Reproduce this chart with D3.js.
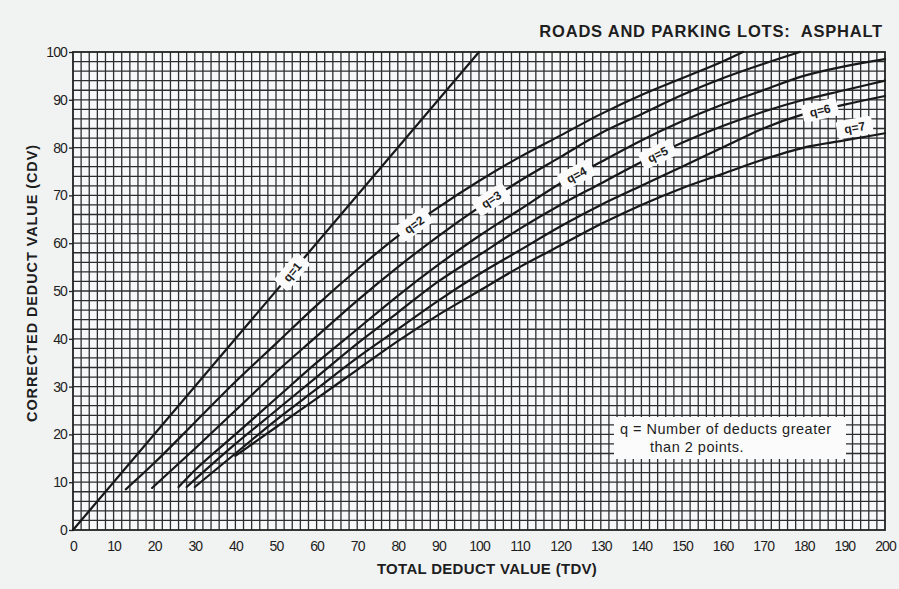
<!DOCTYPE html>
<html>
<head>
<meta charset="utf-8">
<script src="https://cdn.jsdelivr.net/npm/d3@7"></script>
<style>
  html, body { margin: 0; padding: 0; background: #f1f2f2; }
  svg { display: block; }
  text { font-family: "Liberation Sans", Arial, Helvetica, sans-serif; fill: #1e1e1e; }
</style>
</head>
<body>
<svg id="chart" width="899" height="589"></svg>
<script>
// Corrected deduct value curves, one pair of arrays per q
const tdvQ1 = [0, 100];
const cdvQ1 = [0, 100];
const tdvQ2 = [13, 20, 30, 40, 50, 60, 70, 80, 90, 100, 110, 120, 130, 140, 150, 160, 165];
const cdvQ2 = [8.5, 14, 22.5, 31, 39, 47, 54.5, 61.5, 67.5, 73, 78, 82.5, 87, 91, 94.5, 98, 100];
const tdvQ3 = [19.5, 30, 40, 50, 60, 70, 80, 90, 100, 110, 120, 130, 140, 150, 160, 170, 179];
const cdvQ3 = [8.8, 17, 25, 33, 40.5, 48, 55, 61.5, 67.5, 73, 78, 83, 87, 91, 94.5, 97.5, 100];
const tdvQ4 = [26, 30, 40, 50, 60, 70, 80, 90, 100, 110, 120, 130, 140, 150, 160, 170, 180, 190, 200];
const cdvQ4 = [9, 12.5, 20, 27.5, 35, 42, 49, 55.5, 61.5, 67, 72.5, 77, 81.5, 85.5, 89, 92, 95, 97, 98.5];
const tdvQ5 = [28, 40, 50, 60, 70, 80, 90, 100, 110, 120, 130, 140, 150, 160, 170, 180, 190, 200];
const cdvQ5 = [9, 18, 25, 32, 39, 45.5, 52, 57.5, 63, 68, 72.5, 77, 81, 84.5, 87.5, 90, 92, 94];
const tdvQ6 = [30, 40, 50, 60, 70, 80, 90, 100, 110, 120, 130, 140, 150, 160, 170, 180, 190, 200];
const cdvQ6 = [9, 16, 23, 29.5, 36, 42, 48, 53.5, 58.5, 63.5, 68, 72, 76, 80, 84, 87, 89, 90.8];
const tdvQ7 = [40, 50, 60, 70, 80, 90, 100, 110, 120, 130, 140, 150, 160, 170, 180, 190, 200];
const cdvQ7 = [15.5, 21.5, 27.5, 33.5, 39.5, 45, 50, 55, 59.5, 64, 68, 71.5, 74.5, 77.5, 80, 81.5, 83];

const curveNames = ["q=1", "q=2", "q=3", "q=4", "q=5", "q=6", "q=7"];
const tdvSeries = [tdvQ1, tdvQ2, tdvQ3, tdvQ4, tdvQ5, tdvQ6, tdvQ7];
const cdvSeries = [cdvQ1, cdvQ2, cdvQ3, cdvQ4, cdvQ5, cdvQ6, cdvQ7];
// TDV at which each curve carries its name, and how far the tag sits off the line
const nameAtTdv = [54, 84, 103, 124, 144, 184, 193];
const nameLift = [0, 0, 0, 0, 0, 0, 11];

const xTicks = d3.range(0, 201, 10);
const yTicks = d3.range(0, 101, 10);

const titleText = "ROADS AND PARKING LOTS:  ASPHALT";
const xTitle = "TOTAL DEDUCT VALUE (TDV)";
const yTitle = "CORRECTED DEDUCT VALUE (CDV)";
const noteLines = ["q = Number of deducts greater", "than 2 points."];

const svg = d3.select("#chart");
const x = d3.scaleLinear().domain([0, 200]).range([73, 885]);
const y = d3.scaleLinear().domain([0, 100]).range([530, 52]);

// plot paper
svg.append("rect")
  .attr("x", x(0)).attr("y", y(100))
  .attr("width", x(200) - x(0)).attr("height", y(0) - y(100))
  .attr("fill", "#f7f8fa");

// fine grid, every 2 units
const grid = svg.append("g").attr("stroke", "#2e2e2e").attr("stroke-width", 1.3);
d3.range(2, 200, 2).forEach(v => {
  grid.append("line")
    .attr("x1", x(v)).attr("x2", x(v)).attr("y1", y(0)).attr("y2", y(100));
});
d3.range(2, 100, 2).forEach(v => {
  grid.append("line")
    .attr("x1", x(0)).attr("x2", x(200)).attr("y1", y(v)).attr("y2", y(v));
});

// frame
svg.append("rect")
  .attr("x", x(0)).attr("y", y(100))
  .attr("width", x(200) - x(0)).attr("height", y(0) - y(100))
  .attr("fill", "none").attr("stroke", "#222").attr("stroke-width", 1.8);

// axes
const xAxis = d3.axisBottom(x).tickValues(xTicks).tickSize(0).tickPadding(11);
const gx = svg.append("g").attr("transform", `translate(0,${y(0)})`).call(xAxis);
gx.select(".domain").remove();
gx.selectAll("text").attr("font-size", 14).attr("letter-spacing", -0.9).attr("fill", "#1e1e1e")
  .style("font-family", "'Liberation Sans', Arial, sans-serif");

const yAxis = d3.axisLeft(y).tickValues(yTicks).tickSize(4).tickPadding(2);
const gy = svg.append("g").attr("transform", `translate(${x(0)},0)`).call(yAxis);
gy.select(".domain").remove();
gy.selectAll("line").attr("stroke", "#222").attr("stroke-width", 1.3);
gy.selectAll("text").attr("font-size", 14).attr("letter-spacing", -0.9).attr("fill", "#1e1e1e")
  .style("font-family", "'Liberation Sans', Arial, sans-serif");

// curves
const line = d3.line()
  .x(d => x(d[0])).y(d => y(d[1]))
  .curve(d3.curveMonotoneX);

const curveData = tdvSeries.map((t, i) => t.map((v, j) => [v, cdvSeries[i][j]]));

svg.append("g").selectAll("path")
  .data(curveData)
  .join("path")
  .attr("d", line)
  .attr("fill", "none")
  .attr("stroke", "#191919")
  .attr("stroke-width", 2.2)
  .attr("stroke-linecap", "round");

// curve names sitting on the lines
function cdvAt(i, t) {
  const ts = tdvSeries[i], cs = cdvSeries[i];
  for (let k = 0; k < ts.length - 1; k++) {
    if (t >= ts[k] && t <= ts[k + 1]) {
      const f = (t - ts[k]) / (ts[k + 1] - ts[k]);
      return cs[k] + f * (cs[k + 1] - cs[k]);
    }
  }
  return cs[cs.length - 1];
}
const names = svg.append("g");
curveNames.forEach((nm, i) => {
  const t = nameAtTdv[i];
  const c = cdvAt(i, t);
  const px = x(t), py = y(c);
  const ang = Math.atan2(y(cdvAt(i, Math.min(t + 3, 200))) - y(cdvAt(i, t - 3)),
                         x(Math.min(t + 3, 200)) - x(t - 3)) * 180 / Math.PI;
  const g = names.append("g")
    .attr("transform", `translate(${px},${py}) rotate(${ang}) translate(0,${-nameLift[i]})`);
  g.append("rect").attr("x", -18).attr("y", -9).attr("width", 36).attr("height", 18)
    .attr("rx", 3).attr("fill", "#fbfbfb");
  g.append("text").attr("text-anchor", "middle").attr("dy", "0.36em")
    .attr("font-size", 12).attr("font-weight", "bold").text(nm);
});

// note box
const note = svg.append("g");
note.append("rect").attr("x", 614).attr("y", 417).attr("width", 232).attr("height", 42)
  .attr("fill", "#fbfbfb");
note.append("text").attr("x", 620).attr("y", 434).attr("font-size", 14.5).attr("letter-spacing", 0.5)
  .text(noteLines[0]);
note.append("text").attr("x", 650).attr("y", 452).attr("font-size", 14.5).attr("letter-spacing", 0.5)
  .text(noteLines[1]);

// titles
svg.append("text").attr("x", 883).attr("y", 37).attr("text-anchor", "end")
  .attr("font-size", 16.5).attr("font-weight", "bold").attr("letter-spacing", 0.8)
  .style("white-space", "pre").text(titleText);
svg.append("text").attr("x", 487).attr("y", 574).attr("text-anchor", "middle")
  .attr("font-size", 15).attr("font-weight", "bold").attr("letter-spacing", 0.3).text(xTitle);
svg.append("text").attr("transform", "translate(37,283) rotate(-90)").attr("text-anchor", "middle")
  .attr("font-size", 14.5).attr("font-weight", "bold").attr("letter-spacing", 0.9).text(yTitle);
</script>
</body>
</html>
